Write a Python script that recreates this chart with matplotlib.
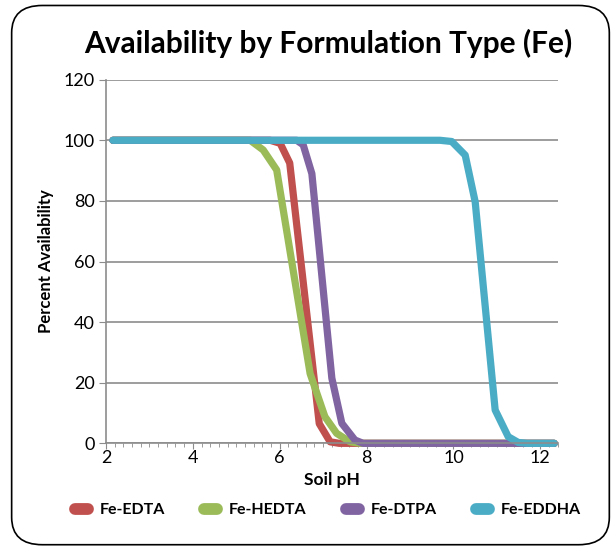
import matplotlib.pyplot as plt
from matplotlib.lines import Line2D
from matplotlib.patches import FancyBboxPatch
from matplotlib.ticker import MultipleLocator

plt.rcParams['font.family'] = ['Lato', 'DejaVu Sans']

# ---------- data ----------
edta_ph = [2.16, 5.78, 6.01, 6.23, 6.91, 7.16, 7.37, 12.32]
edta_pct = [100, 100, 99, 92.5, 6.5, 0.5, 0, 0]

hedta_ph = [2.16, 5.32, 5.62, 5.93, 6.70, 7.04, 7.31, 7.62, 7.85, 12.32]
hedta_pct = [100, 100, 96.8, 90.2, 23, 8.8, 3.3, 0.5, 0, 0]

dtpa_ph = [2.16, 6.39, 6.54, 6.74, 7.20, 7.43, 7.73, 7.92, 12.32]
dtpa_pct = [100, 100, 98.5, 89, 21.5, 6.6, 1.1, 0, 0]

eddha_ph = [2.16, 9.69, 9.96, 10.27, 10.50, 10.96, 11.26, 11.49, 11.69, 12.32]
eddha_pct = [100, 100, 99.6, 95.1, 79.7, 11, 2.2, 0.3, 0, 0]

names = ["Fe-EDTA", "Fe-HEDTA", "Fe-DTPA", "Fe-EDDHA"]
colors = ["#C0504D", "#9BBB59", "#8064A2", "#4BACC6"]

# ---------- plot ----------
fig = plt.figure(figsize=(6.13, 5.48), dpi=100)
ax = fig.add_axes([0.1729, 0.191, 0.7369, 0.6636])

series = [(edta_ph, edta_pct), (hedta_ph, hedta_pct),
          (dtpa_ph, dtpa_pct), (eddha_ph, eddha_pct)]
for (x, y), name, c in zip(series, names, colors):
    ax.plot(x, y, color=c, lw=5.2, label=name,
            solid_joinstyle='round', solid_capstyle='round', clip_on=False)

ax.set_xlim(2, 12.4)
ax.set_ylim(0, 120)
ax.set_xticks([2, 4, 6, 8, 10, 12])
ax.set_yticks(range(0, 121, 20))
ax.xaxis.set_minor_locator(MultipleLocator(0.2))
ax.grid(axis='y', color='#8c8c8c', lw=1.2)
ax.set_axisbelow(True)

for s in ['top', 'right']:
    ax.spines[s].set_visible(False)
for s in ['left', 'bottom']:
    ax.spines[s].set_color('#8c8c8c')
    ax.spines[s].set_linewidth(1.2)
ax.tick_params(axis='y', which='major', length=5, color='#8c8c8c',
               labelsize=13, pad=3)
ax.tick_params(axis='x', which='major', length=4, color='#8c8c8c',
               labelsize=13, pad=1)
ax.tick_params(axis='x', which='minor', length=3, color='#8c8c8c')

ax.set_xlabel("Soil pH", fontsize=12.5, fontweight='bold', labelpad=4)
ax.set_ylabel("Percent Availability", fontsize=12, fontweight='bold', labelpad=7)

fig.text(0.535, 0.921, "Availability by Formulation Type (Fe)",
         ha='center', va='center', fontsize=21.5, fontweight='bold')

handles = [Line2D([0], [0], color=c, lw=8.5, solid_capstyle='round') for c in colors]
fig.legend(handles, names, loc='center', bbox_to_anchor=(0.535, 0.069), ncol=4,
           frameon=False, handlelength=0.8, handletextpad=0.75, columnspacing=2.45,
           prop={'weight': 'bold', 'size': 11.5})

border = FancyBboxPatch((0.019, 0.006), 0.975, 0.984, transform=fig.transFigure,
                        boxstyle="round,pad=0,rounding_size=0.05",
                        fill=False, edgecolor='black', lw=1.2)
fig.patches.append(border)

fig.savefig("out.png", dpi=100)
